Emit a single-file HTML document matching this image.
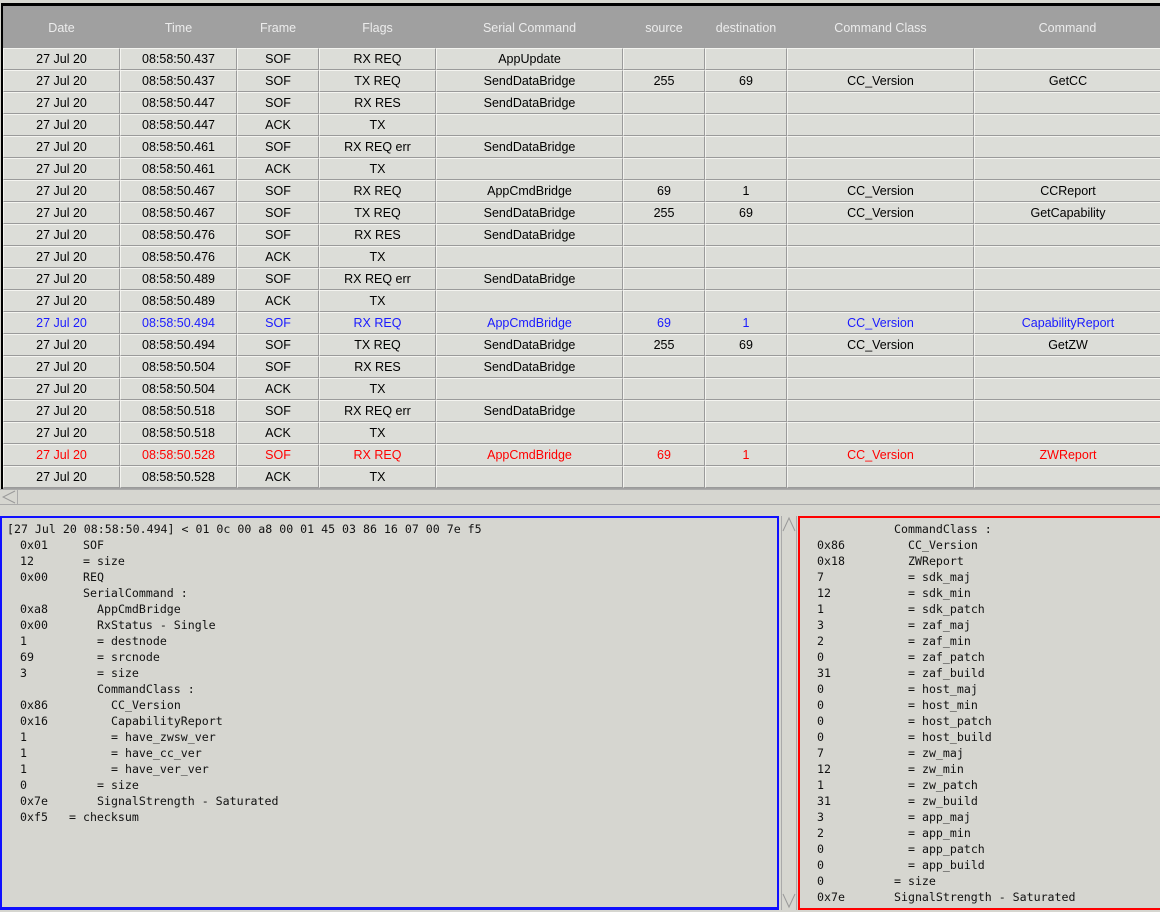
<!DOCTYPE html>
<html><head><style>
html,body{margin:0;padding:0;}
body{width:1160px;height:912px;background:#d6d6d0;position:relative;overflow:hidden;font-family:"Liberation Sans",sans-serif;}
#tbl{position:absolute;left:1px;top:3px;width:1159px;height:483px;border:2px solid #000;border-top-width:3px;border-bottom-width:2px;border-right:none;background:#a0a0a0;}
.c{position:absolute;text-align:center;font-size:12.5px;box-sizing:border-box;}
.h{color:#ececec;font-size:12.5px;height:42px;line-height:44px;top:0;}
.cell{background:#dcddd8;border-right:1px solid #9a9a9a;border-bottom:1px solid #9a9a9a;border-left:1px solid #f4f4f0;border-top:1px solid #f4f4f0;height:22px;line-height:21px;}
.b{color:#1a1aff}.r{color:#ff0000}
.mono{font-family:"DejaVu Sans Mono","Liberation Mono",monospace;font-size:11.6px;white-space:pre;position:absolute;line-height:16px;color:#111;}
</style></head><body>
<div id="tbl">
<div class="c h" style="left:0;width:117px">Date</div>
<div class="c h" style="left:117px;width:117px">Time</div>
<div class="c h" style="left:234px;width:82px">Frame</div>
<div class="c h" style="left:316px;width:117px">Flags</div>
<div class="c h" style="left:433px;width:187px">Serial Command</div>
<div class="c h" style="left:620px;width:82px">source</div>
<div class="c h" style="left:702px;width:82px">destination</div>
<div class="c h" style="left:784px;width:187px">Command Class</div>
<div class="c h" style="left:971px;width:187px">Command</div>
<div id="rows"></div>
</div>
<div style="position:absolute;left:0;top:489px;width:1160px;height:16px;background:#d6d6d0;border-top:1px solid #aaa;border-bottom:1px solid #aaa;box-sizing:border-box"></div>
<div style="position:absolute;left:2px;top:490px;width:15px;height:14px;border-right:1px solid #aaa;">
<svg width="15" height="14"><polyline points="13,1 1,7 13,13" fill="none" stroke="#999"/></svg></div>
<div style="position:absolute;left:0;top:516px;width:775px;height:389px;border:3px solid #1010ff;border-right-width:2px;border-left-width:2px;border-top-width:2px;"></div>
<div style="position:absolute;left:781px;top:516px;width:16px;height:394px;background:#d6d6d0;border-left:1px solid #aaa;border-right:1px solid #aaa;box-sizing:border-box">
<svg width="14" height="16" style="position:absolute;left:0;top:1px"><polyline points="1,14 7,1 13,14" fill="none" stroke="#999"/></svg>
<svg width="14" height="16" style="position:absolute;left:0;bottom:1px"><polyline points="1,1 7,14 13,1" fill="none" stroke="#999"/></svg></div>
<div style="position:absolute;left:798px;top:516px;border:2px solid #ff0000;border-right:none;width:360px;height:390px;"></div>
<div id="L"></div>
<script>
var rows=[
["27 Jul 20","08:58:50.437","SOF","RX REQ","AppUpdate","","","",""],
["27 Jul 20","08:58:50.437","SOF","TX REQ","SendDataBridge","255","69","CC_Version","GetCC"],
["27 Jul 20","08:58:50.447","SOF","RX RES","SendDataBridge","","","",""],
["27 Jul 20","08:58:50.447","ACK","TX","","","","",""],
["27 Jul 20","08:58:50.461","SOF","RX REQ err","SendDataBridge","","","",""],
["27 Jul 20","08:58:50.461","ACK","TX","","","","",""],
["27 Jul 20","08:58:50.467","SOF","RX REQ","AppCmdBridge","69","1","CC_Version","CCReport"],
["27 Jul 20","08:58:50.467","SOF","TX REQ","SendDataBridge","255","69","CC_Version","GetCapability"],
["27 Jul 20","08:58:50.476","SOF","RX RES","SendDataBridge","","","",""],
["27 Jul 20","08:58:50.476","ACK","TX","","","","",""],
["27 Jul 20","08:58:50.489","SOF","RX REQ err","SendDataBridge","","","",""],
["27 Jul 20","08:58:50.489","ACK","TX","","","","",""],
["27 Jul 20","08:58:50.494","SOF","RX REQ","AppCmdBridge","69","1","CC_Version","CapabilityReport","b"],
["27 Jul 20","08:58:50.494","SOF","TX REQ","SendDataBridge","255","69","CC_Version","GetZW"],
["27 Jul 20","08:58:50.504","SOF","RX RES","SendDataBridge","","","",""],
["27 Jul 20","08:58:50.504","ACK","TX","","","","",""],
["27 Jul 20","08:58:50.518","SOF","RX REQ err","SendDataBridge","","","",""],
["27 Jul 20","08:58:50.518","ACK","TX","","","","",""],
["27 Jul 20","08:58:50.528","SOF","RX REQ","AppCmdBridge","69","1","CC_Version","ZWReport","r"],
["27 Jul 20","08:58:50.528","ACK","TX","","","","",""]];
var xs=[0,117,234,316,433,620,702,784,971,1159];
var h="";
rows.forEach(function(r,i){for(var j=0;j<9;j++){h+='<div class="c cell '+(r[9]||'')+'" style="left:'+xs[j]+'px;width:'+(xs[j+1]-xs[j])+'px;top:'+(42+i*22)+'px">'+r[j]+'</div>';}});
document.getElementById('rows').innerHTML=h;
var L=[[7,"[27 Jul 20 08:58:50.494] < 01 0c 00 a8 00 01 45 03 86 16 07 00 7e f5"],
[[20,"0x01"],[83,"SOF"]],[[20,"12"],[83,"= size"]],[[20,"0x00"],[83,"REQ"]],[[83,"SerialCommand :"]],
[[20,"0xa8"],[97,"AppCmdBridge"]],[[20,"0x00"],[97,"RxStatus - Single"]],[[20,"1"],[97,"= destnode"]],[[20,"69"],[97,"= srcnode"]],[[20,"3"],[97,"= size"]],
[[97,"CommandClass :"]],[[20,"0x86"],[111,"CC_Version"]],[[20,"0x16"],[111,"CapabilityReport"]],[[20,"1"],[111,"= have_zwsw_ver"]],[[20,"1"],[111,"= have_cc_ver"]],[[20,"1"],[111,"= have_ver_ver"]],
[[20,"0"],[97,"= size"]],[[20,"0x7e"],[97,"SignalStrength - Saturated"]],[[20,"0xf5"],[69,"= checksum"]]];
var s="";
L.forEach(function(l,i){var t=521+i*16;if(typeof l[0]==="number"){s+='<div class="mono" style="left:'+l[0]+'px;top:'+t+'px">'+l[1]+'</div>';}else l.forEach(function(p){s+='<div class="mono" style="left:'+p[0]+'px;top:'+t+'px">'+p[1]+'</div>';});});
var R=[[[894,"CommandClass :"]],[[817,"0x86"],[908,"CC_Version"]],[[817,"0x18"],[908,"ZWReport"]]];
var v=[["7","sdk_maj"],["12","sdk_min"],["1","sdk_patch"],["3","zaf_maj"],["2","zaf_min"],["0","zaf_patch"],["31","zaf_build"],["0","host_maj"],["0","host_min"],["0","host_patch"],["0","host_build"],["7","zw_maj"],["12","zw_min"],["1","zw_patch"],["31","zw_build"],["3","app_maj"],["2","app_min"],["0","app_patch"],["0","app_build"]];
v.forEach(function(a){R.push([[817,a[0]],[908,"= "+a[1]]]);});
R.push([[817,"0"],[894,"= size"]]);R.push([[817,"0x7e"],[894,"SignalStrength - Saturated"]]);
R.forEach(function(l,i){var t=521+i*16;l.forEach(function(p){s+='<div class="mono" style="left:'+p[0]+'px;top:'+t+'px">'+p[1]+'</div>';});});
document.getElementById('L').innerHTML=s;
</script>
</body></html>
